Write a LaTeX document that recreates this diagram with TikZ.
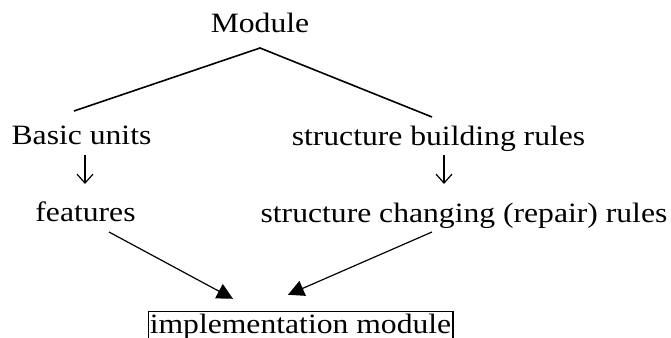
\documentclass[tikz,border=0pt]{standalone}
\usepackage{fontspec}
\setmainfont{Liberation Serif}[FakeStretch=1.13]
\usetikzlibrary{arrows.meta,calc}
\begin{document}
\begin{tikzpicture}[x=1pt,y=-1pt,
  lbl/.style={anchor=base,inner sep=0pt,font=\fontsize{28}{30}\selectfont},
  branch/.style={line width=1.6pt},
  downarr/.style={line width=1.2pt,-{Straight Barb[length=9pt,width=16pt,line width=1.2pt]}},
  flow/.style={line width=1.2pt,-{Triangle[length=16pt,width=16pt]}},
  implbox/.style={lbl,draw,line width=1.6pt,inner xsep=1.5pt,inner ysep=2pt}]
\useasboundingbox (0,0) rectangle (671,337);
\node[lbl] (module) at (260,33) {Module};
\node[lbl] (basic) at (81.5,144) {Basic units};
\node[lbl] (sbr) at (438.5,145) {structure building rules};
\node[lbl] (feat) at (85.5,221) {features};
\node[lbl] (scr) at (464,222) {structure changing (repair) rules};
\node[implbox] (impl) at (300.5,333) {implementation module};
% branches from Module
\coordinate (apex) at ($(module.base)+(0,15)$);
\coordinate (bl) at ($(basic.base)+(-7.5,-33)$);
\coordinate (br) at ($(sbr.base)+(-6.5,-28)$);
\draw[branch] (bl) -- (apex) -- (br);
% down arrows
\coordinate (dLt) at ($(basic.base)+(3.5,11)$);
\coordinate (dLb) at ($(feat.base)+(-0.5,-37)$);
\coordinate (dRt) at ($(sbr.base)+(5.5,10)$);
\coordinate (dRb) at ($(scr.base)+(-20,-38)$);
\draw[downarr] (dLt) -- (dLb);
\draw[downarr] (dRt) -- (dRb);
% arrows to implementation module
\coordinate (fs) at ($(feat.base)+(23.5,11)$);
\coordinate (ss) at ($(scr.base)+(-32,10)$);
\coordinate (ft) at ($(impl.north)+(-67.5,-12)$);
\coordinate (st) at ($(impl.north)+(-12.5,-16)$);
\draw[flow] (fs) -- (ft);
\draw[flow] (ss) -- (st);
\end{tikzpicture}
\end{document}
